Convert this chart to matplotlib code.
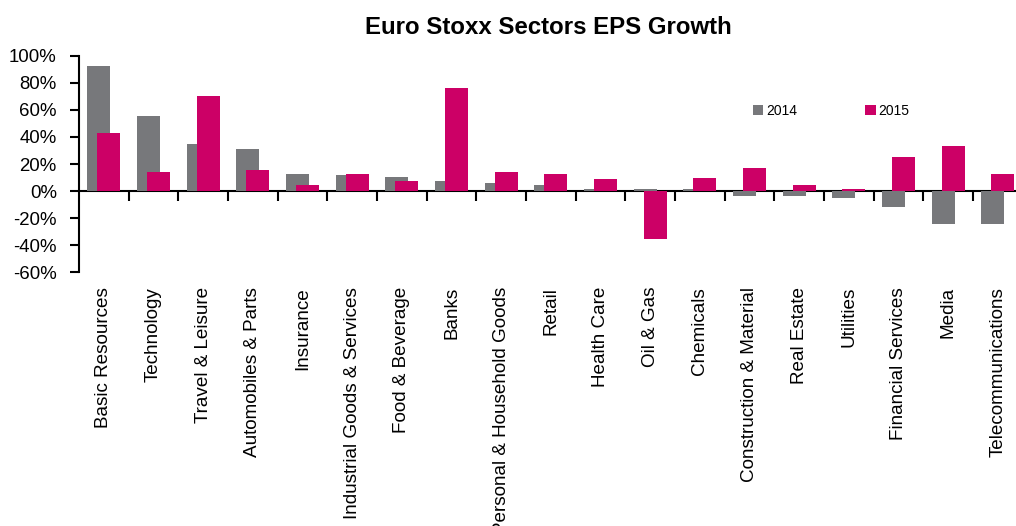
import numpy as np
import matplotlib
matplotlib.use("Agg")
import matplotlib.pyplot as plt
from matplotlib.ticker import FuncFormatter

# sector EPS growth, %
sectors = ["Basic Resources", "Technology", "Travel & Leisure", "Automobiles & Parts",
           "Insurance", "Industrial Goods & Services", "Food & Beverage", "Banks",
           "Personal & Household Goods", "Retail", "Health Care", "Oil & Gas",
           "Chemicals", "Construction & Material", "Real Estate", "Utilities",
           "Financial Services", "Media", "Telecommunications"]
eps_2014 = [92.4, 55.2, 34.7, 30.8, 12.8, 11.6, 10.1, 7.4, 5.9, 4.4, 1.7, 1.7,
            1.7, -3.7, -3.7, -5.2, -11.8, -24.1, -24.1]
eps_2015 = [42.9, 14.0, 70.4, 15.5, 4.4, 12.8, 7.4, 75.9, 14.0, 12.6, 8.6, -35.5,
            9.9, 16.7, 4.4, 1.7, 24.9, 33.0, 12.6]
years = ["2014", "2015"]
y_ticks = list(range(-60, 101, 20))

grey = "#77787b"
pink = "#cc0066"
plt.rcParams["font.family"] = ["Liberation Sans", "DejaVu Sans"]

W, H = 1016, 526
fig = plt.figure(figsize=(W / 100, H / 100), dpi=100)
# axes box in pixels: x 79 -> 1023 (last category runs off the right edge), y 56 -> 272
ax = fig.add_axes([79 / W, (H - 272.3) / H, (1022.7 - 79) / W, 216.6 / H])

x = np.arange(len(sectors))
ax.bar(x - 0.1, eps_2014, 0.46, color=grey, label=years[0], zorder=2)
ax.bar(x + 0.1, eps_2015, 0.46, color=pink, label=years[1], zorder=3)

ax.set_xlim(-0.5, len(sectors) - 0.5)
ax.set_ylim(-60, 100)
ax.set_yticks(y_ticks)
ax.yaxis.set_major_formatter(FuncFormatter(lambda v, p: "%d%%" % v))
ax.tick_params(axis="y", direction="out", length=6.5, width=1.5, pad=9.5,
               labelsize=13.4, colors="black")

for s in ["top", "right", "bottom"]:
    ax.spines[s].set_visible(False)
ax.spines["left"].set_linewidth(1.5)

ax.set_xticks(x)
ax.set_xticklabels(sectors, rotation=90, ha="center", va="top", fontsize=13.6)
ax.tick_params(axis="x", length=0, pad=10.5)

# zero line with tick marks between categories
zero_pos = (0 - (-60)) / (100 - (-60))
sec = ax.secondary_xaxis(zero_pos)
sec.set_xticks(np.arange(0.5, len(sectors) - 0.5, 1))
sec.tick_params(direction="out", length=7, width=1.5, labelbottom=False, labeltop=False)
sec.spines["bottom"].set_linewidth(1.5)
sec.spines["top"].set_linewidth(1.5)

leg = ax.legend(ncol=2, loc="center left", bbox_to_anchor=(753 / W, 1 - 111 / H),
                bbox_transform=fig.transFigure, frameon=False, fontsize=10,
                handlelength=0.75, handleheight=0.75, handletextpad=0.2,
                columnspacing=4.9, borderpad=0, borderaxespad=0)

fig.text(548.5 / W, 1 - 28 / H, "Euro Stoxx Sectors EPS Growth", ha="center", va="center",
         fontsize=17.3, fontweight="bold")

fig.savefig("out.png", dpi=100)
